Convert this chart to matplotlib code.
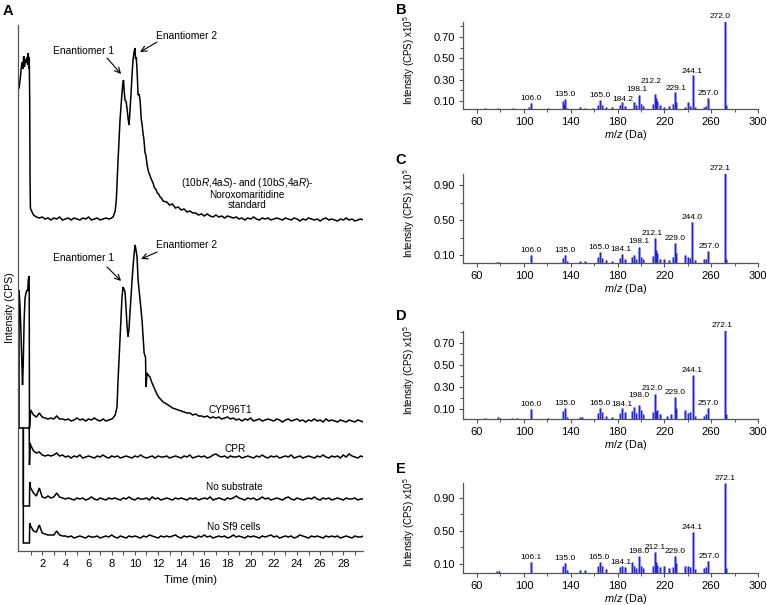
import numpy as np
import matplotlib
matplotlib.use('Agg')
import matplotlib.pyplot as plt

plt.rcParams['font.family'] = ['Liberation Sans', 'DejaVu Sans']
plt.rcParams['mathtext.fontset'] = 'custom'
plt.rcParams['mathtext.rm'] = 'Liberation Sans'
plt.rcParams['mathtext.it'] = 'Liberation Sans:italic'
plt.rcParams['mathtext.bf'] = 'Liberation Sans:bold'

# ======================= Panel A data =======================
# intensities in arbitrary units above each trace's own baseline; time in min
STEP = 0.25  # sampling interval of the recorded chromatograms (min)

# --- standard (racemic noroxomaritidine)
std_early_t = [0.0, 0.1, 0.18, 0.26, 0.33, 0.4, 0.47, 0.55, 0.62, 0.7, 0.75, 0.8, 0.84, 0.88, 0.92, 0.95, 0.98]
std_early_h = [131, 140, 150, 157, 150, 163, 152, 160, 156, 162, 154, 166, 150, 162, 120, 40, 12]
std_pre_h = [10, 4, 2, 1, 2, 0, 1, -1, 1, 0, 2, -1, 0, 1, -1, 1, 0, -1, 1, 0,
             2, -1, 0, 1, -1, 0, 1, 0, 1]                      # 1.00 - 8.00 min
std_peak_t = [8.12, 8.3, 8.4, 8.55, 8.72, 8.85, 8.95, 9.02, 9.08, 9.15, 9.25, 9.33, 9.42, 9.5,
              9.58, 9.67, 9.76, 9.84, 9.92, 10.0, 10.06, 10.12, 10.19, 10.28, 10.36, 10.45,
              10.55, 10.62, 10.7, 10.78, 10.88, 10.95, 11.05, 11.14, 11.25, 11.35, 11.45,
              11.57, 11.7, 11.8, 11.95, 12.05, 12.18, 12.3, 12.42]
std_peak_h = [2, 8, 19, 59, 99, 120, 134, 139, 128, 119, 117, 110, 100, 94,
              108, 125, 145, 159, 166, 171, 160, 162, 149, 124, 125, 119,
              100, 95, 86, 80, 66, 64, 55, 49, 45, 42, 39,
              36, 31, 30, 26, 25, 22, 21, 18]
std_post_h = [17, 14, 15, 11, 12, 9, 10, 7, 8, 6, 6, 4,
              5, 3, 5, 3, 2, 4, 2, 3, 1, 3, 2, 1,
              2, 0, 1, -1, 1, 0, 2, 0, -1, 1, 0, 1,
              -1, 0, 1, 0, -1, 1, 0, -1, 1, 0, -2, 0,
              -1, 1, 0, -1, 0, -2, 0, 1, -1, 0, -1, -2,
              0, -1, 1, -1, 0, -2, -1, 0, -1]                  # 12.75 - 29.75 min

# --- CYP96T1
cyp_early_t = [0.0, 0.0, 0.08, 0.16, 0.24, 0.3, 0.36, 0.44, 0.52, 0.6, 0.68, 0.75, 0.8, 0.86, 0.88, 0.9, 0.0, np.nan, 0.9]
cyp_early_h = [-8, 130, 115, 90, 60, 35, 55, 100, 122, 127, 130, 129, 140, 144, 130, -8, -8, np.nan, -8]
cyp_pre_h = [10, 5, 3, 7, 3, 2, 1, 2, 1, 4, 1, 1, 0, 1, -1, 0, 2, 0, 1, -1,
             1, 0, 2, 0, -1, 1, -1, 0, 1]
cyp_peak_t = [8.12, 8.3, 8.46, 8.55, 8.64, 8.72, 8.8, 8.89, 8.98, 9.06, 9.15, 9.24, 9.33, 9.41,
              9.5, 9.58, 9.67, 9.76, 9.84, 9.93, 10.02, 10.1, 10.19, 10.28, 10.45, 10.62, 10.72,
              10.8, 10.88, 10.92, 10.97, 11.05, 11.15, 11.31, 11.45, 11.6, 11.74, 11.9, 12.05,
              12.2, 12.44]
cyp_peak_h = [2, 5, 13, 40, 62, 80, 102, 123, 133, 131, 128, 112, 93, 83,
              92, 108, 123, 140, 153, 165, 175, 170, 163, 140, 120, 100, 82,
              67, 64, 63, 33, 47, 45, 43, 38, 34, 30, 26, 23,
              21, 18]
cyp_post_h = [16, 14, 12, 11, 10, 9, 8, 7, 7, 5, 6, 4,
              4, 3, 4, 2, 3, 2, 3, 1, 2, 3, 1, 2,
              0, 1, -1, 1, 0, 2, -1, 0, 1, -1, 0, 1,
              0, -1, 1, 0, -2, 0, 1, -1, 0, 1, -1, 0,
              -2, 0, -1, 1, -1, 0, -2, 1, -1, 0, -1, -2,
              0, -1, -2, 0, -1, -2, 0, -1, -2]

# --- CPR control
cpr_early_t = [0.88, 0.9, 0.96]
cpr_early_h = [29, -8, 14]
cpr_h = [12, 6, 4, 5, 2, 1, 2, 1, 2, 4, 1, 2,
         0, 1, -1, 1, 0, 2, -1, 0, 1, 0, -1, 1,
         0, 2, 0, -1, 1, 0, 1, -1, 0, 1, 0, -1,
         1, 0, 2, 0, -1, 0, 1, -1, 1, 0, 0, 1,
         -1, 0, 1, 0, -1, 1, 0, 2, -1, 0, 1, 0,
         1, -1, 0, 2, 3, 1, 0, 1, -1, 1, 0, 0,
         1, -1, 0, 1, 0, -1, 1, 0, 2, 0, -1, 1,
         0, 1, -1, 0, 1, 0, 2, -1, 0, 1, -1, 0,
         1, 0, -1, 1, 0, 2, 0, -1, 1, 0, 1, -1,
         2, 0, 3, 1, 0, -1, 1, 0]                               # 1.00 - 29.75 min

# --- no substrate control
nosub_early_t = [0.37, 0.37, 0.9, 0.92]
nosub_early_h = [71, -7, -7, 17]
nosub_h = [11, 6, 3, 11, 2, 1, 3, 1, 2, 6, 2, 1,
           0, 1, 0, -1, 1, 0, 1, -1, 0, 2, 0, -1,
           1, 0, -1, 1, 0, 1, 0, -1, 1, 0, 2, 0,
           -1, 1, 0, 0, 1, -1, 2, 0, 1, -1, 0, 1,
           0, -1, 1, 0, 1, 0, -1, 1, 0, 1, -1, 0,
           1, 0, 2, -1, 0, 1, 0, -1, 1, 0, 1, 3,
           1, 0, -1, 1, 0, 1, -1, 0, 2, 0, 1, -1,
           0, 1, 0, -1, 1, 2, 0, -1, 1, 0, -1, 0,
           1, 0, 2, 0, -1, 1, 0, 1, -1, 0, 1, 0,
           -1, 1, 0, 0, 1, -1, 0, 0]

# --- no Sf9 cells control
nosf9_early_t = [0.37, 0.37, 0.9, 0.92]
nosf9_early_h = [109, -6, -6, 14]
nosf9_h = [11, 6, 5, 12, 4, 3, 2, 2, 2, 6, 2, 1,
           1, 0, 1, -1, 0, 1, 0, -1, 1, 0, 0, 1,
           -1, 0, 1, 0, 2, 0, -1, 1, 0, -1, 1, 0,
           1, 0, -1, 1, 0, 2, 1, 0, -1, 1, 0, 1,
           0, 1, 2, 0, -1, 1, 0, 1, 0, -1, 1, 0,
           2, 0, 1, -1, 0, 1, 0, 1, -1, 0, 2, 0,
           1, 0, -1, 1, 0, 1, 0, -1, 1, 0, 1, 2,
           0, 1, -1, 0, 1, 0, 1, -1, 0, 2, 1, 0,
           -1, 1, 0, 1, 0, -1, 1, 0, 1, 0, 1, -1,
           0, 1, 0, -1, 1, 0, 0, 1]

trace_names = ["(10b$\\it{R}$,4a$\\it{S}$)- and (10b$\\it{S}$,4a$\\it{R}$)-\nNoroxomaritidine\nstandard",
               "CYP96T1", "CPR", "No substrate", "No Sf9 cells"]
time_ticks = [2, 4, 6, 8, 10, 12, 14, 16, 18, 20, 22, 24, 26, 28]

# ======================= Panels B-E data (MS/MS spectra) =======================
b_mz = [106.0, 135.0, 165.0, 184.2, 198.1, 212.2, 229.1, 244.1, 257.0, 272.0]
b_int = [0.08, 0.12, 0.11, 0.09, 0.155, 0.17, 0.18, 0.34, 0.125, 0.85]
b_minor_mz = [67, 78, 91, 104, 121, 133, 134, 137, 148, 152, 159, 163, 167, 170, 175, 182, 186,
              194, 196, 200, 202, 210, 213, 214, 216, 220, 224, 227, 230, 238, 240, 242, 246,
              254, 256, 273]
b_minor_int = [0.03, 0.035, 0.03, 0.04, 0.03, 0.10, 0.07, 0.035, 0.04, 0.035, 0.035, 0.06, 0.065,
               0.04, 0.04, 0.06, 0.05, 0.09, 0.06, 0.07, 0.05, 0.07, 0.13, 0.10, 0.06, 0.04,
               0.05, 0.07, 0.09, 0.04, 0.09, 0.05, 0.04, 0.04, 0.05, 0.06]

c_mz = [106.0, 135.0, 165.0, 184.1, 198.1, 212.1, 229.0, 244.0, 257.0, 272.1]
c_int = [0.10, 0.10, 0.14, 0.11, 0.195, 0.30, 0.235, 0.48, 0.145, 1.04]
c_minor_mz = [77, 79, 133, 137, 148, 152, 163, 167, 170, 175, 182, 186, 192, 194, 196, 200, 202,
              210, 213, 214, 216, 220, 224, 227, 230, 238, 240, 242, 246, 254, 256, 273]
c_minor_int = [0.02, 0.02, 0.07, 0.03, 0.03, 0.03, 0.08, 0.07, 0.04, 0.03, 0.07, 0.06, 0.08,
               0.10, 0.05, 0.08, 0.05, 0.09, 0.16, 0.12, 0.06, 0.05, 0.04, 0.08, 0.12, 0.10,
               0.08, 0.07, 0.04, 0.05, 0.06, 0.06]

d_mz = [106.0, 135.0, 165.0, 184.1, 198.0, 212.0, 229.0, 244.1, 257.0, 272.1]
d_int = [0.10, 0.11, 0.11, 0.11, 0.136, 0.236, 0.21, 0.41, 0.11, 0.82]
d_minor_mz = [67, 78, 80, 90, 94, 121, 133, 137, 148, 150, 163, 167, 170, 175, 182, 186, 192, 194,
              196, 200, 202, 210, 213, 214, 216, 222, 226, 230, 238, 240, 242, 246, 254, 256, 273]
d_minor_int = [0.02, 0.025, 0.02, 0.02, 0.02, 0.02, 0.08, 0.03, 0.03, 0.03, 0.06, 0.07, 0.04,
               0.03, 0.06, 0.07, 0.08, 0.12, 0.06, 0.09, 0.05, 0.07, 0.08, 0.09, 0.05, 0.04,
               0.05, 0.11, 0.09, 0.06, 0.07, 0.04, 0.04, 0.05, 0.05]

e_mz = [106.1, 135.0, 165.0, 184.1, 198.0, 212.1, 229.0, 244.1, 257.0, 272.1]
e_int = [0.12, 0.115, 0.12, 0.07, 0.20, 0.25, 0.20, 0.49, 0.14, 1.08]
e_minor_mz = [77, 79, 133, 137, 148, 152, 163, 167, 170, 182, 186, 192, 194, 196, 200, 202, 210,
              213, 214, 216, 220, 224, 227, 230, 238, 240, 242, 246, 254, 256, 273]
e_minor_int = [0.02, 0.02, 0.08, 0.03, 0.03, 0.03, 0.07, 0.08, 0.04, 0.06, 0.06, 0.12, 0.08,
               0.05, 0.08, 0.05, 0.08, 0.12, 0.09, 0.06, 0.07, 0.05, 0.06, 0.11, 0.08, 0.07,
               0.06, 0.04, 0.05, 0.06, 0.05]

mz_ticks = [60, 100, 140, 180, 220, 260, 300]
yticks_small = [0.10, 0.30, 0.50, 0.70]
yticks_large = [0.10, 0.50, 0.90]

# label nudges (points) -- layout only
b_nudge = [(0, 0), (0, 0), (0, 0), (0, -1), (-1, 1), (-3, 5.5), (1, 0), (0, 0), (0, 0), (-4, 0)]
c_nudge = [(0, 0), (0, 0), (-1, 0), (-1, 0), (0, 1), (-2, 0), (0, 0), (0, 0), (1, 0), (-4, 0)]
d_nudge = [(0, 0), (0, 0), (0, 0), (0, -1), (0, 4), (-2, 1), (0, 0), (0, 0), (0, 0), (-2, 0)]
e_nudge = [(0, 0), (0, 0), (-1, 0), (-1, 0), (0, 0), (0, 0), (0, 0), (0, 0), (1, 0), (0, 0)]

# ======================= figure =======================
W, H = 767, 605
fig = plt.figure(figsize=(W / 100, H / 100), dpi=100)
SPINE = '#555555'


def px_axes(x0, y0, x1, y1):
    return fig.add_axes([x0 / W, 1 - y1 / H, (x1 - x0) / W, (y1 - y0) / H])


def sampled(start, values):
    return list(start + STEP * np.arange(len(values))), list(values)


# ----- Panel A -----
axA = px_axes(18, 25, 363, 551)
offsets = [332, 131, 94, 52, 14]

def build(parts):
    t, h = [], []
    for pt, ph in parts:
        t += list(pt)
        h += list(ph)
    return np.array(t, float), np.array(h, float)

traces = [
    build([(std_early_t, std_early_h), sampled(1.0, std_pre_h), (std_peak_t, std_peak_h), sampled(12.75, std_post_h)]),
    build([(cyp_early_t, cyp_early_h), sampled(1.0, cyp_pre_h), (cyp_peak_t, cyp_peak_h), sampled(12.75, cyp_post_h)]),
    build([(cpr_early_t, cpr_early_h), sampled(1.0, cpr_h)]),
    build([(nosub_early_t, nosub_early_h), sampled(1.0, nosub_h)]),
    build([(nosf9_early_t, nosf9_early_h), sampled(1.0, nosf9_h)]),
]
for (t, h), off in zip(traces, offsets):
    axA.plot(t, h + off, color='black', lw=1.1, solid_joinstyle='miter')

axA.set_xlim(-0.09, 29.7)
axA.set_ylim(0, 526)
for s in ['top', 'right']:
    axA.spines[s].set_visible(False)
for s in ['left', 'bottom']:
    axA.spines[s].set_color(SPINE)
    axA.spines[s].set_linewidth(0.9)
axA.set_yticks([])
axA.set_xticks(time_ticks)
axA.set_xticks([1, 3, 5, 7, 9, 11, 13, 15, 17, 19, 21, 23, 25, 27, 29], minor=True)
axA.tick_params(axis='x', which='both', length=3, width=0.8, color=SPINE, labelsize=8, pad=3)
axA.set_xlabel('Time (min)', fontsize=8, labelpad=4)

label_pos = [(19.7, 358), (18.2, 141), (18.65, 102), (18.57, 64), (18.5, 24)]
for name, (x, y) in zip(trace_names, label_pos):
    axA.text(x, y, name, ha='center', va='center', fontsize=7.2, linespacing=1.05)

arrow_kw = dict(arrowstyle='->', lw=0.8, color='black', mutation_scale=10, shrinkA=0, shrinkB=0)
# standard
axA.text(5.53, 500, 'Enantiomer 1', ha='center', va='center', fontsize=7.4)
axA.annotate('', xy=(8.81, 477), xytext=(7.6, 493), arrowprops=arrow_kw)
axA.text(14.5, 515, 'Enantiomer 2', ha='center', va='center', fontsize=7.4)
axA.annotate('', xy=(10.45, 499), xytext=(11.92, 509), arrowprops=arrow_kw)
# CYP96T1
axA.text(5.53, 293, 'Enantiomer 1', ha='center', va='center', fontsize=7.4)
axA.annotate('', xy=(8.81, 270), xytext=(7.6, 284), arrowprops=arrow_kw)
axA.text(14.5, 306, 'Enantiomer 2', ha='center', va='center', fontsize=7.4)
axA.annotate('', xy=(10.54, 292), xytext=(11.92, 299), arrowprops=arrow_kw)

fig.text(10 / W, 1 - 308 / H, 'Intensity (CPS)', rotation=90, ha='center', va='center', fontsize=7.6)
fig.text(8 / W, 1 - 11 / H, 'A', ha='center', va='center', fontsize=10.5, fontweight='bold')

# ----- Panels B-E -----
spectra = [
    ('B', (22, 109), (0.025, 0.84), yticks_small, [0.2, 0.4, 0.6, 0.8], b_mz, b_int, b_minor_mz, b_minor_int, b_nudge, 10),
    ('C', (174, 263), (0.009, 1.03), yticks_large, [0.3, 0.7], c_mz, c_int, c_minor_mz, c_minor_int, c_nudge, 160),
    ('D', (331, 419), (0.009, 0.81), yticks_small, [0.2, 0.4, 0.6, 0.8], d_mz, d_int, d_minor_mz, d_minor_int, d_nudge, 316),
    ('E', (483, 573), (-0.01, 1.08), yticks_large, [0.3, 0.7], e_mz, e_int, e_minor_mz, e_minor_int, e_nudge, 469),
]
BLUE = '#2424d4'
LIGHT = '#a4a4f0'
for letter, (ytop, ybot), ylim, yt, ytm, mz, inten, mmz, mint, nudge, ly in spectra:
    ax = px_axes(463, ytop, 758, ybot)
    all_mz = list(mmz) + list(mz)
    all_int = list(mint) + list(inten)
    ax.vlines(all_mz, -0.1, all_int, color=LIGHT, lw=2.2)
    ax.vlines(all_mz, -0.1, all_int, color=BLUE, lw=0.9)
    for m, v, (dx, dy) in zip(mz, inten, nudge):
        ax.annotate(f'{m:.1f}', (m, v), xytext=(dx, 0.6 + dy), textcoords='offset points',
                    ha='center', va='bottom', fontsize=6.0, annotation_clip=False)
    ax.set_xlim(48, 300)
    ax.set_ylim(*ylim)
    for s in ['top', 'right']:
        ax.spines[s].set_visible(False)
    for s in ['left', 'bottom']:
        ax.spines[s].set_color(SPINE)
        ax.spines[s].set_linewidth(0.9)
    ax.set_xticks(mz_ticks)
    ax.set_xticks([80, 120, 160, 200, 240, 280], minor=True)
    ax.set_yticks(yt)
    ax.set_yticklabels([f'{v:.2f}' for v in yt])
    ax.set_yticks(ytm, minor=True)
    ax.tick_params(which='major', length=3, width=0.8, color=SPINE, labelsize=8, pad=2.5)
    ax.tick_params(which='minor', length=2, width=0.7, color=SPINE)
    ax.set_xlabel('$\\it{m/z}$ (Da)', fontsize=7.8)
    h = ybot - ytop
    ax.xaxis.set_label_coords(0.55, -18.5 / h)
    ax.set_ylabel('Intensity (CPS) x10$^5$', fontsize=7.0)
    ax.yaxis.set_label_coords(-46 / 295, 0.56)
    fig.text(401 / W, 1 - ly / H, letter, ha='center', va='center', fontsize=10.5, fontweight='bold')

fig.savefig('out.png', dpi=100)
